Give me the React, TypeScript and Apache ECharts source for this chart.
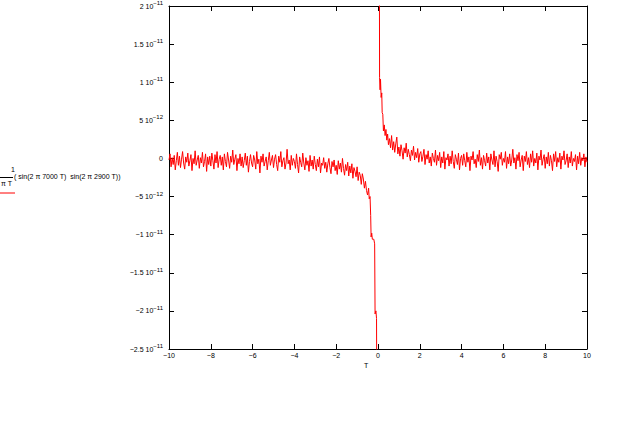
import React, { useEffect, useRef } from "react";
import * as echarts from "echarts";

// values in units of 1e-12
const leftStart = -10;
const step = 0.05;
const leftNoise = [
  -0.2, 0.6, -1.1, 0.1, -0.8, 0.4, -1.5, -0.3, 0.8, -0.9,
  0.3, -1.2, -0.1, 0.9, -0.6, -1.4, 0.2, -0.5, 0.7, -1.0,
  -0.3, 0.5, -1.6, 0.0, -0.7, 1.0, -0.9, -0.2, 0.4, -1.3,
  0.1, -0.6, 0.8, -1.1, -0.4, 0.6, -1.7, 0.2, -0.8, 0.3,
  -1.0, 0.7, -0.3, -1.4, 0.5, -0.6, 0.9, -1.2, -0.1, 0.4,
  -0.9, 0.2, -1.5, 0.6, -0.4, -1.1, 0.8, -0.2, -1.3, 0.3,
  -0.5, 1.1, -0.8, -0.1, 0.5, -1.6, 0.0, -0.7, 0.6, -1.0,
  0.2, -1.2, -0.3, 0.7, -0.9, 0.3, -1.8, -0.4, 0.5, -0.6,
  -1.1, 0.4, -0.2, -1.4, 0.9, -0.7, -0.1, -1.9, 0.3, -0.5,
  0.6, -1.0, -0.4, 0.2, -1.5, -0.3, 0.8, -0.9, -0.2, 0.4,
  -1.2, -0.1, 0.5, -0.8, -1.6, 0.3, -0.5, 0.9, -1.1, -0.3,
  0.1, -1.4, -0.6, 1.2, -0.7, -0.2, -1.5, 0.4, -0.9, 0.0,
  -0.4, -1.3, 0.6, -0.8, -1.9, 0.2, -0.5, -1.1, 0.7, -0.6,
  -1.5, 0.1, -0.9, -0.3, -1.7, 0.4, -1.0, -0.2, -1.4, 0.3,
  -0.8, -1.6, -0.1, -1.1, 0.2, -1.9, -0.6, -0.9, 0.1, -1.3,
  -0.5, -1.8, -0.7, 0.0, -1.2, -2.0, -0.4, -1.1, -0.2, -1.6,
  -0.9, -2.1, -0.3, -1.4, -0.6, -1.8, 0.0, -1.3, -2.2, -0.8,
  -1.6, -0.5, -2.3, -1.0, -1.9, -0.7, -2.6, -1.2, -1.7, -2.4,
  -1.1, -2.9, -1.8, -2.2, -3.4, -2.0, -2.7, -3.9, -3.0, -4.2,
];
const nearLeftT = [-0.5, -0.45, -0.42, -0.38, -0.35, -0.33, -0.3, -0.27, -0.2, -0.16, -0.14, -0.1, -0.07, -0.06];
const nearLeftV = [-4.8, -3.9, -5.3, -5.0, -7.5, -10.3, -9.8, -10.6, -10.6, -11.2, -20.4, -20.0, -21.0, -30.0];

const nearRightT = [0.06, 0.07, 0.075, 0.1, 0.12, 0.15, 0.18, 0.2, 0.23, 0.26, 0.3, 0.34, 0.38, 0.42, 0.46, 0.5];
const nearRightV = [30.0, 20.0, 10.6, 9.0, 10.4, 8.0, 8.6, 6.0, 5.8, 3.6, 4.4, 3.0, 3.8, 2.4, 3.2, 1.8];
const rightStart = 0.55;
const rightNoise = [
  2.6, 1.4, 3.0, 1.1, 2.2, 0.8, 1.9, 2.8, 0.6, 1.5,
  0.3, 1.8, 1.0, -0.1, 1.4, 0.7, 2.0, 0.2, 1.2, 0.5,
  -0.3, 1.1, 0.4, 1.6, -0.2, 0.8, 0.1, 1.3, -0.5, 0.6,
  0.9, -0.4, 0.3, 1.2, -0.8, 0.5, -0.1, 1.0, -0.6, 0.2,
  -1.0, 0.7, 0.0, -0.5, 1.1, -0.9, 0.4, -0.3, 0.8, -1.2,
  0.2, -0.6, 0.9, -1.4, 0.1, -0.2, 0.6, -1.0, 0.3, -0.7,
  1.0, -0.4, -1.3, 0.5, -0.1, -0.8, 0.7, -1.5, 0.0, 0.4,
  -0.9, 0.6, -0.3, -1.1, 0.8, -0.5, 0.2, -1.6, 0.3, -0.2,
  0.9, -0.7, -0.1, -1.2, 0.5, -0.4, 1.1, -0.9, 0.1, -1.4,
  0.4, -0.3, -1.0, 0.7, -0.6, 0.2, -1.5, 0.6, -0.2, -0.8,
  1.0, -1.1, 0.3, -0.4, -1.7, 0.5, -0.1, 0.8, -0.9, 0.0,
  -0.5, 0.9, -1.3, 0.2, -0.7, 0.6, -1.0, -0.2, 1.2, -0.6,
  0.1, -1.4, 0.5, -0.3, 0.8, -1.1, -0.2, 0.4, -1.6, 0.3,
  -0.4, 0.9, -0.8, 0.1, -1.2, 0.6, -0.5, 1.0, -1.0, 0.0,
  -0.6, 0.7, -1.5, 0.3, -0.2, 1.1, -0.9, -0.1, 0.5, -1.3,
  0.2, -0.7, 0.8, -1.0, 0.4, -0.3, -1.6, 0.6, -0.4, 0.9,
  -1.1, 0.1, -0.5, 0.7, -1.4, 0.3, -0.2, 1.0, -0.8, -0.3,
  0.6, -1.2, 0.2, -0.6, 0.9, -1.0, 0.0, -0.4, 0.5, -1.5,
  0.3, -0.7, 0.8, -0.9, 0.1, -0.3, 0.6, -1.1, 0.2, -0.5,
];

const yTickValues = [-25, -20, -15, -10, -5, 0, 5, 10, 15, 20];
const yTickMantissa = ["−2.5", "−2", "−1.5", "−1", "−5", "0", "5", "1", "1.5", "2"];
const yTickExponent = ["−11", "−11", "−11", "−11", "−12", "", "−12", "−11", "−11", "−11"];
const xTickLabels = ["−10", "−8", "−6", "−4", "−2", "0", "2", "4", "6", "8", "10"];
const xTickValues = [-10, -8, -6, -4, -2, 0, 2, 4, 6, 8, 10];

const FONT = "'Liberation Sans', 'DejaVu Sans', sans-serif";

export default function App() {
  const ref = useRef<HTMLDivElement>(null);
  useEffect(() => {
    if (!ref.current) return;
    const chart = echarts.init(ref.current, undefined, { renderer: "svg" });

    const leftData: number[][] = leftNoise.map((v, i) => [leftStart + i * step, v]);
    nearLeftT.forEach((t, i) => leftData.push([t, nearLeftV[i]]));
    const rightData: number[][] = nearRightT.map((t, i) => [t, nearRightV[i]]);
    rightNoise.forEach((v, i) => rightData.push([rightStart + i * step, v]));

    const yFmt = (val: number) => {
      const idx = yTickValues.indexOf(Math.round(val));
      if (idx < 0) return "";
      const e = yTickExponent[idx];
      if (!e) return "{b|" + yTickMantissa[idx] + "}";
      return "{b|" + yTickMantissa[idx] + " 10}{s|" + e + "}";
    };
    const xFmt = (val: number) => {
      const idx = xTickValues.indexOf(Math.round(val));
      return idx < 0 ? "" : xTickLabels[idx];
    };

    const axisLine = { show: true, onZero: false, lineStyle: { color: "#000", width: 1 } };
    const axisTick = { show: true, inside: true, length: 5, lineStyle: { color: "#000", width: 1 } };

    chart.setOption({
      animation: false,
      backgroundColor: "#fff",
      grid: { left: 169, right: 44, top: 6, bottom: 73, containLabel: false },
      xAxis: [
        {
          type: "value",
          position: "bottom",
          min: -10,
          max: 10,
          interval: 2,
          axisLine,
          axisTick,
          splitLine: { show: false },
          axisLabel: { formatter: xFmt, fontSize: 7, color: "#000", margin: 3, fontFamily: FONT },
        },
        {
          type: "value",
          position: "top",
          min: -10,
          max: 10,
          interval: 2,
          axisLine,
          axisTick,
          splitLine: { show: false },
          axisLabel: { show: false },
        },
      ],
      yAxis: [
        {
          type: "value",
          position: "left",
          min: -25,
          max: 20,
          interval: 5,
          axisLine,
          axisTick,
          splitLine: { show: false },
          axisLabel: {
            formatter: yFmt,
            margin: 6,
            color: "#000",
            rich: {
              b: { fontSize: 7, fontFamily: FONT, color: "#000" },
              s: { fontSize: 6, fontFamily: FONT, color: "#000", padding: [0, 0, 6, 0] },
            },
          },
        },
        {
          type: "value",
          position: "right",
          min: -25,
          max: 20,
          interval: 5,
          axisLine,
          axisTick,
          splitLine: { show: false },
          axisLabel: { show: false },
        },
      ],
      series: [
        {
          type: "line",
          data: leftData,
          showSymbol: false,
          symbol: "none",
          clip: true,
          lineStyle: { color: "#ff0000", width: 1 },
          itemStyle: { color: "#ff0000" },
        },
        {
          type: "line",
          data: rightData,
          showSymbol: false,
          symbol: "none",
          clip: true,
          lineStyle: { color: "#ff0000", width: 1 },
          itemStyle: { color: "#ff0000" },
        },
      ],
      graphic: [
        { type: "text", left: 364, top: 362, style: { text: "T", fontSize: 7, fontFamily: FONT, fill: "#000" } },
        { type: "text", left: 11, top: 166, style: { text: "1", fontSize: 7, fontFamily: FONT, fill: "#000" } },
        { type: "line", shape: { x1: 0, y1: 177.5, x2: 13, y2: 177.5 }, style: { stroke: "#000", lineWidth: 1 } },
        { type: "text", left: 1, top: 180, style: { text: "π T", fontSize: 7, fontFamily: FONT, fill: "#000" } },
        {
          type: "text",
          left: 14,
          top: 173,
          style: { text: "( sin(2 π 7000 T)  sin(2 π 2900 T))", fontSize: 7, fontFamily: FONT, fill: "#000" },
        },
        { type: "line", shape: { x1: 0, y1: 193, x2: 15, y2: 193 }, style: { stroke: "#ff0000", lineWidth: 1 } },
      ],
    });
    return () => chart.dispose();
  }, []);
  return <div ref={ref} style={{ position: "absolute", left: 0, top: 0, width: 631, height: 422 }} />;
}
